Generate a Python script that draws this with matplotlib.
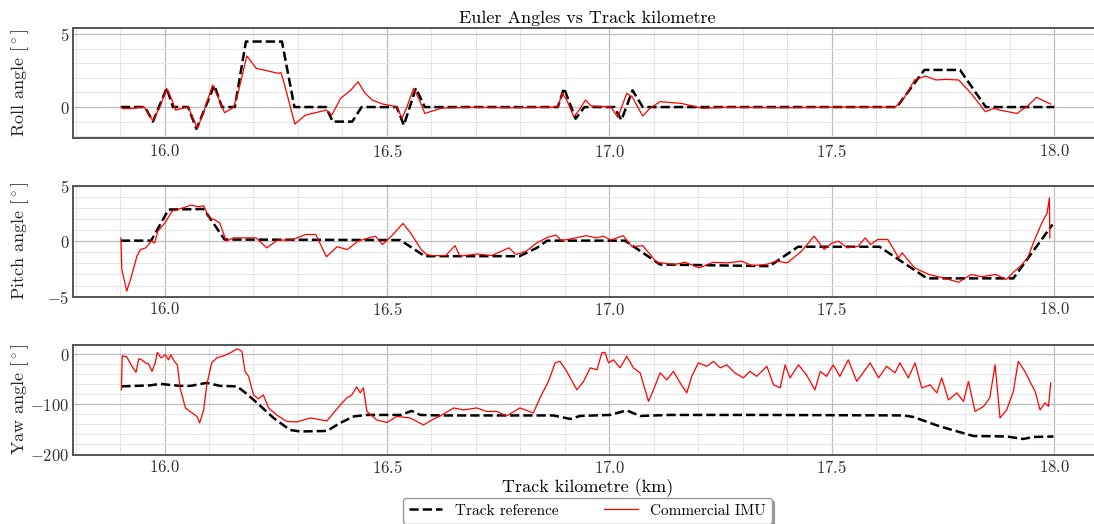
import matplotlib
matplotlib.use("Agg")
import matplotlib.pyplot as plt
from matplotlib.ticker import MultipleLocator

plt.rcParams["font.family"] = "cmr10"
plt.rcParams["mathtext.fontset"] = "cm"
plt.rcParams["axes.formatter.use_mathtext"] = True

# roll angle (deg) vs track km
roll_ref_km = [15.902, 15.956, 15.974, 16.005, 16.019, 16.053, 16.072, 16.112, 16.129, 16.158,
               16.183, 16.264, 16.292, 16.363, 16.378, 16.422, 16.443, 16.522, 16.538, 16.565,
               16.585, 16.884, 16.898, 16.924, 16.944, 17.011, 17.027, 17.052, 17.075, 17.646,
               17.708, 17.788, 17.846, 18.0]
roll_ref = [0, 0, -1.0, 1.3, 0, 0, -1.5, 1.5, 0, 0,
            4.5, 4.5, 0, 0, -1.0, -1.0, 0, 0, -1.25, 1.3,
            0, 0, 1.3, -0.8, 0, 0, -0.9, 1.15, 0, 0,
            2.55, 2.55, 0, 0]

roll_imu_km = [15.902, 15.907, 15.930, 15.954, 15.974, 15.990, 16.005, 16.017, 16.025, 16.053,
               16.074, 16.092, 16.108, 16.120, 16.135, 16.155, 16.167, 16.185, 16.206, 16.230,
               16.254, 16.262, 16.269, 16.293, 16.317, 16.364, 16.376, 16.396, 16.419, 16.435,
               16.451, 16.467, 16.490, 16.522, 16.534, 16.545, 16.560, 16.573, 16.585, 16.597,
               16.624, 16.695, 16.774, 16.867, 16.884, 16.894, 16.904, 16.920, 16.932, 16.946,
               16.959, 17.003, 17.019, 17.039, 17.051, 17.075, 17.091, 17.114, 17.162, 17.210,
               17.257, 17.400, 17.519, 17.642, 17.662, 17.686, 17.710, 17.734, 17.757, 17.785,
               17.813, 17.845, 17.865, 17.877, 17.916, 17.940, 17.960, 17.980, 17.992]
roll_imu = [0.0, -0.11, -0.09, 0.02, -0.94, 0.02, 1.28, 0.48, -0.21, 0.02,
            -1.47, 0.02, 1.51, 0.71, -0.39, -0.02, 1.17, 3.51, 2.66, 2.50,
            2.32, 2.36, 1.63, -1.17, -0.55, -0.21, -0.55, 0.60, 1.17, 1.74,
            0.94, 0.48, 0.21, 0.02, -0.78, 0.02, 1.28, 0.48, -0.44, -0.32,
            -0.07, -0.02, -0.05, -0.02, 0.02, 0.94, 0.48, -0.67, -0.21, 0.48,
            0.07, 0.02, -0.71, 0.94, 0.71, -0.62, -0.09, 0.37, 0.25, -0.09,
            -0.02, -0.05, 0.0, -0.02, 0.60, 1.86, 2.13, 1.86, 1.90, 1.86,
            0.94, -0.32, -0.09, -0.21, -0.44, 0.07, 0.67, 0.37, 0.21]

# pitch angle (deg)
pitch_ref_km = [15.902, 15.970, 16.009, 16.088, 16.135, 16.530, 16.585, 16.798, 16.837, 16.860,
                17.035, 17.114, 17.360, 17.424, 17.607, 17.714, 17.908, 17.996]
pitch_ref = [0.05, 0.05, 2.85, 2.9, 0.15, 0.1, -1.35, -1.35, -0.6, 0.05,
             0.05, -2.1, -2.25, -0.5, -0.5, -3.35, -3.35, 1.5]

pitch_imu_km = [15.902, 15.904, 15.915, 15.924, 15.938, 15.946, 15.958, 15.970, 15.978, 15.985,
                16.001, 16.017, 16.041, 16.060, 16.076, 16.088, 16.100, 16.112, 16.124, 16.139,
                16.155, 16.183, 16.206, 16.230, 16.254, 16.285, 16.317, 16.340, 16.364, 16.388,
                16.411, 16.435, 16.459, 16.474, 16.490, 16.510, 16.536, 16.553, 16.577, 16.589,
                16.601, 16.632, 16.653, 16.664, 16.703, 16.735, 16.774, 16.790, 16.813, 16.837,
                16.861, 16.880, 16.892, 16.924, 16.948, 16.971, 16.987, 17.003, 17.031, 17.051,
                17.075, 17.106, 17.146, 17.170, 17.202, 17.233, 17.265, 17.297, 17.321, 17.352,
                17.376, 17.400, 17.432, 17.460, 17.483, 17.499, 17.515, 17.535, 17.559, 17.575,
                17.587, 17.603, 17.626, 17.650, 17.658, 17.686, 17.718, 17.750, 17.785, 17.813,
                17.837, 17.869, 17.892, 17.908, 17.924, 17.940, 17.956, 17.972, 17.984, 17.989,
                17.990]
pitch_imu = [0.3, -2.5, -4.5, -3.4, -1.35, -0.75, -0.6, 0.0, -0.15, 0.9,
             1.65, 2.7, 3.0, 3.25, 3.1, 3.2, 2.1, 1.95, 1.65, 0.0,
             0.3, 0.3, 0.3, -0.6, 0.1, 0.1, 0.6, 0.6, -1.4, -0.5,
             -0.75, 0.0, 0.3, 0.45, -0.3, 0.45, 1.6, 0.75, -0.75, -1.2,
             -1.3, -1.3, -0.4, -1.35, -1.15, -1.3, -0.6, -1.2, -0.9, -0.15,
             0.35, 0.55, 0.05, 0.3, 0.5, 0.3, 0.45, 0.1, 0.5, -0.5,
             -0.4, -1.9, -2.1, -1.9, -2.4, -1.9, -1.95, -1.8, -2.2, -2.1,
             -1.8, -1.95, -0.9, 0.45, -0.75, -0.2, 0.0, -0.6, -0.45, 0.3,
             -0.3, 0.15, 0.15, -1.5, -1.05, -2.4, -3.0, -3.3, -3.7, -3.0,
             -3.2, -3.0, -3.45, -2.8, -2.25, -1.5, 0.15, 1.65, 2.55, 3.9,
             0.3]

# yaw angle (deg)
yaw_ref_km = [15.903, 15.968, 15.990, 16.035, 16.058, 16.095, 16.125, 16.163, 16.185, 16.208,
              16.245, 16.282, 16.305, 16.365, 16.395, 16.425, 16.455, 16.530, 16.556, 16.575,
              16.620, 16.724, 16.874, 16.912, 16.934, 17.001, 17.039, 17.069, 17.136, 17.339,
              17.661, 17.683, 17.743, 17.818, 17.893, 17.930, 17.953, 17.998]
yaw_ref = [-64, -62, -59, -63, -63, -57, -63, -64, -79, -97,
           -127, -151, -154, -153, -137, -124, -121, -121, -113, -121,
           -122, -122, -122, -129, -123, -121, -112, -123, -121, -121,
           -122, -125, -144, -163, -164, -169, -165, -164]

yaw_imu_km = [15.903, 15.905, 15.915, 15.927, 15.936, 15.942, 15.949, 15.957, 15.964, 15.972,
              15.979, 15.984, 15.992, 16.002, 16.009, 16.014, 16.022, 16.029, 16.035, 16.047,
              16.062, 16.073, 16.079, 16.088, 16.095, 16.106, 16.118, 16.133, 16.148, 16.163,
              16.174, 16.181, 16.189, 16.200, 16.211, 16.222, 16.234, 16.252, 16.275, 16.297,
              16.328, 16.365, 16.395, 16.410, 16.421, 16.432, 16.440, 16.447, 16.455, 16.477,
              16.500, 16.522, 16.552, 16.582, 16.605, 16.620, 16.650, 16.672, 16.702, 16.724,
              16.747, 16.769, 16.799, 16.829, 16.844, 16.863, 16.878, 16.889, 16.904, 16.927,
              16.942, 16.957, 16.972, 16.983, 16.990, 16.998, 17.009, 17.024, 17.039, 17.054,
              17.069, 17.088, 17.099, 17.114, 17.129, 17.144, 17.159, 17.174, 17.185, 17.200,
              17.219, 17.234, 17.249, 17.264, 17.282, 17.301, 17.316, 17.331, 17.354, 17.369,
              17.384, 17.395, 17.406, 17.425, 17.443, 17.462, 17.474, 17.488, 17.503, 17.518,
              17.537, 17.556, 17.575, 17.586, 17.605, 17.623, 17.642, 17.653, 17.672, 17.687,
              17.702, 17.721, 17.736, 17.747, 17.762, 17.781, 17.796, 17.807, 17.822, 17.841,
              17.855, 17.867, 17.878, 17.893, 17.908, 17.919, 17.934, 17.945, 17.957, 17.968,
              17.979, 17.987, 17.992]
yaw_imu = [-71, -3, -5, -24, -36, -9, -11, -17, -19, -34,
           -17, 4, -7, -1, -11, -1, -14, -21, -67, -107,
           -117, -124, -137, -111, -61, -17, -7, -3, 3, 11,
           6, -34, -44, -81, -89, -81, -107, -121, -134, -135,
           -127, -133, -101, -87, -81, -65, -77, -67, -114, -131,
           -136, -124, -127, -141, -129, -123, -107, -111, -107, -114,
           -114, -123, -107, -117, -87, -54, -17, -14, -34, -71,
           -54, -27, -31, 3, 4, -17, -11, -27, -4, -27,
           -37, -94, -71, -37, -51, -34, -57, -77, -44, -17,
           -24, -14, -27, -21, -37, -47, -34, -44, -24, -61,
           -67, -21, -47, -21, -41, -71, -34, -44, -21, -44,
           -11, -54, -31, -17, -47, -24, -37, -17, -47, -17,
           -67, -61, -77, -47, -91, -77, -94, -54, -114, -104,
           -87, -21, -127, -111, -74, -14, -34, -54, -74, -111,
           -97, -104, -57]

panels = [
    (roll_ref_km, roll_ref, roll_imu_km, roll_imu, r"Roll angle [$^\circ$]", (-2.15, 5.41), [0, 5], 1),
    (pitch_ref_km, pitch_ref, pitch_imu_km, pitch_imu, r"Pitch angle [$^\circ$]", (-5, 5), [-5, 0, 5], 1),
    (yaw_ref_km, yaw_ref, yaw_imu_km, yaw_imu, r"Yaw angle [$^\circ$]", (-200, 18.6), [-200, -100, 0], 20),
]
bottoms = [0.736, 0.4338, 0.1326]
heights = [0.21, 0.2118, 0.209]

fig = plt.figure(figsize=(10.94, 5.24), dpi=100, facecolor="w")
axes = []
for (rk, rv, ik, iv, lab, ylim, yt, ymin), b, h in zip(panels, bottoms, heights):
    ax = fig.add_axes([0.067, b, 0.9394, h])
    ax.plot(rk, rv, color="black", linestyle="--", linewidth=1.8, label="Track reference")
    ax.plot(ik, iv, color="red", linewidth=0.9, label="Commercial IMU")
    ax.set_xlim(15.795, 18.105)
    ax.set_ylim(*ylim)
    ax.set_xticks([16.0, 16.5, 17.0, 17.5, 18.0])
    ax.set_yticks(yt)
    ax.xaxis.set_minor_locator(MultipleLocator(0.1))
    ax.yaxis.set_minor_locator(MultipleLocator(ymin))
    ax.grid(which="major", color="#bdbdbd", linewidth=0.9)
    ax.grid(which="minor", color="#e6e6e6", linewidth=0.7)
    ax.set_axisbelow(True)
    ax.tick_params(which="both", length=0, labelsize=12, pad=3, labelcolor="#333333")
    for s in ax.spines.values():
        s.set_color("#555555")
        s.set_linewidth(1.4)
    ax.set_ylabel(lab, fontsize=13, color="#222222")
    ax.yaxis.set_label_coords(-0.041, 0.5)
    axes.append(ax)

axes[0].set_title("Euler Angles vs Track kilometre", fontsize=13, pad=4)
axes[2].set_xlabel("Track kilometre (km)", fontsize=13, labelpad=2)
axes[2].legend(loc="upper center", bbox_to_anchor=(0.5, -0.325), ncol=2, fontsize=11,
               shadow=True, edgecolor="#999999", columnspacing=3.0, handlelength=2.2)

plt.savefig("out.png", dpi=100)
